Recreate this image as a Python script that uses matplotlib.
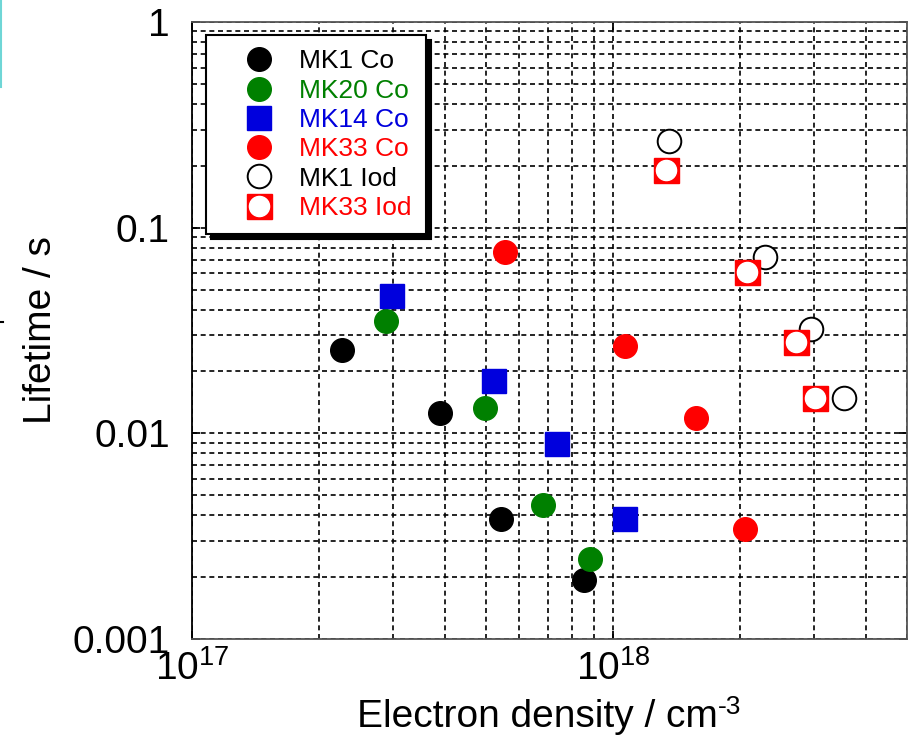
import numpy as np
import matplotlib
matplotlib.use('Agg')
import matplotlib.pyplot as plt
from matplotlib.lines import Line2D

plt.rcParams['font.family'] = ['Liberation Sans', 'DejaVu Sans']
plt.rcParams['mathtext.default'] = 'regular'

# data (x: electron density cm^-3, y: lifetime s)
mk1_co_x = [2.27e17, 3.88e17, 5.42e17, 8.53e17]
mk1_co_y = [0.0255, 0.0125, 0.00384, 0.00194]
mk20_co_x = [2.89e17, 4.97e17, 6.82e17, 8.82e17]
mk20_co_y = [0.035, 0.0133, 0.00449, 0.00245]
mk14_co_x = [2.99e17, 5.22e17, 7.36e17, 1.067e18]
mk14_co_y = [0.0463, 0.0180, 0.0089, 0.00384]
mk33_co_x = [5.54e17, 1.067e18, 1.58e18, 2.06e18]
mk33_co_y = [0.0758, 0.0267, 0.0119, 0.00343]
mk1_iod_x = [1.36e18, 2.30e18, 2.95e18, 3.54e18]
mk1_iod_y = [0.263, 0.0717, 0.0323, 0.0149]
mk33_iod_x = [1.34e18, 2.08e18, 2.72e18, 3.02e18]
mk33_iod_y = [0.190, 0.0612, 0.0279, 0.0149]

labels = ['MK1 Co', 'MK20 Co', 'MK14 Co', 'MK33 Co', 'MK1 Iod', 'MK33 Iod']
colors = ['black', 'green', '#0000dd', 'red', 'black', 'red']


def run():
    fig = plt.figure(figsize=(9.08, 7.48), dpi=100)
    ax = fig.add_axes([192/908, 109/748, 715/908, 617/748])
    ax.set_xscale('log')
    ax.set_yscale('log')
    ax.set_xlim(1e17, 5e18)
    ax.set_ylim(1e-3, 1)

    ms = 17
    h1, = ax.plot(mk1_co_x, mk1_co_y, 'o', color='black', ms=ms, zorder=3)
    h2, = ax.plot(mk20_co_x, mk20_co_y, 'o', color='green', ms=ms, zorder=3)
    h3, = ax.plot(mk14_co_x, mk14_co_y, 's', color='#0000dd', ms=ms, zorder=3)
    h4, = ax.plot(mk33_co_x, mk33_co_y, 'o', color='red', ms=ms, zorder=3)
    h5, = ax.plot(mk1_iod_x, mk1_iod_y, 'o', mfc='white', mec='black', mew=1.4,
                  ms=ms, zorder=3)
    h6a, = ax.plot(mk33_iod_x, mk33_iod_y, 's', color='red', ms=18, zorder=3)
    h6b, = ax.plot(mk33_iod_x, mk33_iod_y, 'o', mfc='white', mec='white',
                   ms=14.5, zorder=4)

    # grid
    ax.grid(True, which='both', color='black', linestyle=(0, (3, 2.2)),
            linewidth=1.2)
    ax.set_axisbelow(True)

    for s in ax.spines.values():
        s.set_linewidth(1.3)
        s.set_color('#555555')
    ax.spines['left'].set_color('black')

    ax.set_xticks([1e17, 1e18])
    ax.set_xticklabels(['$10^{17}$', '$10^{18}$'])
    ax.set_yticks([1e-3, 1e-2, 1e-1, 1])
    ax.set_yticklabels(['0.001', '0.01', '0.1', '1'])
    ax.tick_params(which='major', direction='in', length=6, width=1.3,
                   top=True, right=True, labelsize=28)
    ax.tick_params(axis='x', pad=8)
    ax.tick_params(axis='y', pad=16)
    ax.tick_params(which='minor', length=0)

    ax.set_xlabel('Electron density / cm', fontsize=28)
    ax.xaxis.set_label_coords(0.4825, -0.097)
    ax.annotate('-3', xy=(1.0, 1.12), xycoords=ax.xaxis.label,
                ha='left', va='top', fontsize=19)
    ax.set_ylabel('Lifetime / s', fontsize=28, labelpad=10)

    handles = [h1, h2, h3, h4, h5, (h6a, h6b)]
    leg = ax.legend(handles, labels, loc='upper left',
                    bbox_to_anchor=(0.0196, 0.979), borderaxespad=0,
                    fontsize=19, labelcolor=colors, frameon=True,
                    fancybox=False, edgecolor='black', framealpha=1,
                    handlelength=2.88, handletextpad=0.08, labelspacing=0.2,
                    borderpad=0.55,
                    shadow={'color': 'black', 'alpha': 1, 'ox': 3.5, 'oy': -3.5})
    leg.get_frame().set_linewidth(1.5)
    leg.set_zorder(10)

    # small cropping artefacts at the left edge
    fig.add_artist(Line2D([0.001, 0.001], [1.0, 1 - 87/748], color='#6fd6d6',
                          lw=1.5, transform=fig.transFigure))
    fig.add_artist(Line2D([0.0, 0.003], [1 - 322/748, 1 - 322/748],
                          color='black', lw=1.5, transform=fig.transFigure))

    fig.savefig('out.png', dpi=100)


if __name__ == "__main__":
    run()
